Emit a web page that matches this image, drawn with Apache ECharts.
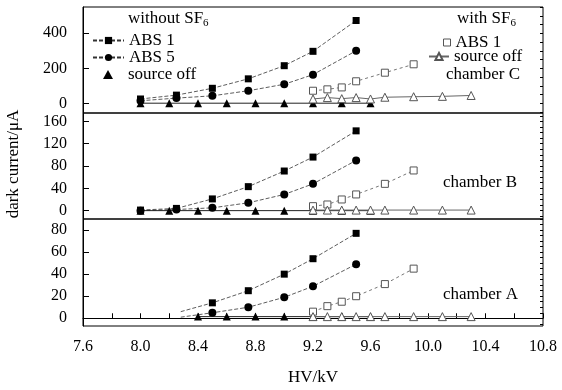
<!DOCTYPE html>
<html><head><meta charset="utf-8">
<script src="https://cdn.jsdelivr.net/npm/echarts@6/dist/echarts.min.js"></script>
<style>html,body{margin:0;padding:0;background:#fff}#c{width:562px;height:390px}</style>
</head><body><div id="c"></div>
<script>
// ---- data (HV in kV, dark current in uA) ----
const hvAbs   = [8.0, 8.25, 8.5, 8.75, 9.0, 9.2, 9.5];
const hvAbsA  = [8.28, 8.5, 8.75, 9.0, 9.2, 9.5];
const hvOff   = [8.0, 8.2, 8.4, 8.6, 8.8, 9.0, 9.2, 9.4, 9.6];
const hvOffA  = [8.4, 8.6, 8.8, 9.0, 9.2, 9.4, 9.6];
const hvSfAbs = [9.2, 9.3, 9.4, 9.5, 9.7, 9.9];
const hvSfOff = [9.2, 9.3, 9.4, 9.5, 9.6, 9.7, 9.9, 10.1, 10.3];

// chamber C
const cAbs1   = [25, 47, 86, 140, 215, 297, 473];
const cAbs5   = [15, 30, 43, 72, 109, 164, 300];
const cOff    = [1, 1, 1, 1, 1, 1, 1, 1, 1];
const cSfAbs1 = [72, 80, 91, 126, 175, 223];
const cSfOff  = [25, 33, 27, 33, 25, 35, 38, 40, 45];
// chamber B
const bAbs1   = [1, 4, 21, 43, 71, 96, 143];
const bAbs5   = [0, 2, 5, 14, 29, 48, 90];
const bOff    = [0, 0, 0, 0, 0, 0, 0, 0, 0];
const bSfAbs1 = [8, 11, 20, 29, 48, 72];
const bSfOff  = [1, 1, 1, 1, 1, 1, 1, 1, 1];
// chamber A
const aAbs1   = [6, 14, 25, 40, 54, 77];
const aAbs5   = [1, 5, 10, 19, 29, 49];
const aOff    = [1.5, 1.5, 1.5, 1.5, 1.5, 1.5, 1.5];
const aSfAbs1 = [6, 11, 15, 20, 31, 45];
const aSfOff  = [1.5, 1.5, 1.5, 1.5, 1.5, 1.5, 1.5, 1.5, 1.5];

// tick labels
const xTickLabels = [7.6, 8.0, 8.4, 8.8, 9.2, 9.6, 10.0, 10.4, 10.8];
const yLabelsC = [0, 200, 400];
const yLabelsB = [0, 40, 80, 120, 160];
const yLabelsA = [0, 20, 40, 60, 80];

// ---- build ----
const FONT = 'Liberation Serif';
function zip(xs, ys, noFirstMarker) {
  return xs.map((x, i) => (noFirstMarker && i === 0) ? {value: [x, ys[i]], symbol: 'none'} : [x, ys[i]]);
}
function steps(a, b, s) { const r = []; for (let v = a; v <= b + 1e-9; v += s) r.push(+v.toFixed(4)); return r; }

const ranges = [
  {min: -55, max: 550, labels: yLabelsC, minor: steps(-50, 550, 50)},
  {min: -15, max: 175, labels: yLabelsB, minor: steps(-10, 170, 10)},
  {min: -7,  max: 90,  labels: yLabelsA, minor: steps(-5, 90, 5)}
];

const grids = [
  {left: 83, right: 19, top: 7, height: 106},
  {left: 83, right: 19, top: 113, height: 106},
  {left: 83, right: 19, top: 219, height: 107}
].map(g => Object.assign(g, {show: true, borderColor: '#000', borderWidth: 1, backgroundColor: 'transparent'}));

const xAxes = [0, 1, 2].map(i => ({
  gridIndex: i, type: 'value', min: 7.6, max: 10.8, interval: 0.2,
  show: i === 2,
  axisLine: {show: true, lineStyle: {color: '#000', width: 1}},
  axisTick: {show: true, inside: true, length: 5, lineStyle: {color: '#000'}},
  axisLabel: {
    show: true, color: '#000', fontFamily: FONT, fontSize: 16, margin: 13,
    formatter: v => xTickLabels.some(t => Math.abs(t - v) < 1e-6) ? v.toFixed(1) : ''
  },
  splitLine: {show: false},
  name: i === 2 ? 'HV/kV' : '', nameLocation: 'middle', nameGap: 43,
  nameTextStyle: {color: '#000', fontFamily: FONT, fontSize: 17}
}));

const yAxes = [];
ranges.forEach((r, i) => {
  yAxes.push({
    gridIndex: i, type: 'value', min: r.min, max: r.max,
    axisLine: {show: true, lineStyle: {color: '#000'}},
    axisTick: {show: true, inside: true, length: 6, customValues: r.labels, lineStyle: {color: '#000'}},
    axisLabel: {customValues: r.labels, color: '#000', fontFamily: FONT, fontSize: 16, margin: 16},
    splitLine: {show: false}
  });
  yAxes.push({
    gridIndex: i, type: 'value', min: r.min, max: r.max,
    axisLine: {show: false},
    axisTick: {show: true, inside: true, length: 3, customValues: r.minor, lineStyle: {color: '#000'}},
    axisLabel: {show: false},
    splitLine: {show: false}
  });
});

const styles = {
  'ABS 1': {symbol: 'rect', symbolSize: 7, itemStyle: {color: '#000'}, lineStyle: {color: '#333', width: 0.8, type: [4, 2]}},
  'ABS 5': {symbol: 'circle', symbolSize: 8, itemStyle: {color: '#000'}, lineStyle: {color: '#333', width: 0.8, type: [4, 2]}},
  'source off': {symbol: 'triangle', symbolSize: 8, itemStyle: {color: '#000'}, lineStyle: {color: '#222', width: 1, type: 'solid'}},
  'SF6 ABS 1': {symbol: 'rect', symbolSize: 7, itemStyle: {color: '#fff', borderColor: '#555', borderWidth: 1}, lineStyle: {color: '#777', width: 1, type: [3, 3]}},
  'SF6 source off': {symbol: 'triangle', symbolSize: 8, itemStyle: {color: '#fff', borderColor: '#555', borderWidth: 1}, lineStyle: {color: '#666', width: 1, type: 'solid'}}
};

function mk(name, panel, data, z) {
  return Object.assign({
    type: 'line', name, xAxisIndex: panel, yAxisIndex: panel * 2, data,
    showAllSymbol: true, animation: false, z: z, clip: true
  }, JSON.parse(JSON.stringify(styles[name])));
}

const series = [
  mk('ABS 1', 0, zip(hvAbs, cAbs1), 2),
  mk('ABS 5', 0, zip(hvAbs, cAbs5), 2),
  mk('source off', 0, zip(hvOff, cOff), 2),
  mk('SF6 ABS 1', 0, zip(hvSfAbs, cSfAbs1), 3),
  mk('SF6 source off', 0, zip(hvSfOff, cSfOff), 3),
  mk('ABS 1', 1, zip(hvAbs, bAbs1), 2),
  mk('ABS 5', 1, zip(hvAbs, bAbs5), 2),
  mk('source off', 1, zip(hvOff, bOff), 2),
  mk('SF6 ABS 1', 1, zip(hvSfAbs, bSfAbs1), 3),
  mk('SF6 source off', 1, zip(hvSfOff, bSfOff), 3),
  mk('ABS 1', 2, zip(hvAbsA, aAbs1, true), 2),
  mk('ABS 5', 2, zip(hvAbsA, aAbs5, true), 2),
  mk('source off', 2, zip(hvOffA, aOff), 2),
  mk('SF6 ABS 1', 2, zip(hvSfAbs, aSfAbs1), 3),
  mk('SF6 source off', 2, zip(hvSfOff, aSfOff), 3)
];

const legTxt = {color: '#000', fontFamily: FONT, fontSize: 17, lineHeight: 16};
const subRich = {
  a: {fontFamily: FONT, fontSize: 17, lineHeight: 20, fill: '#000'},
  b: {fontFamily: FONT, fontSize: 11, lineHeight: 11, verticalAlign: 'bottom', fill: '#000'}
};

const option = {
  backgroundColor: '#fff',
  animation: false,
  grid: grids,
  xAxis: xAxes,
  yAxis: yAxes,
  series: series,
  legend: [
    {data: ['ABS 1', 'ABS 5'], orient: 'vertical', left: 92, top: 32,
     itemWidth: 31, itemHeight: 9, itemGap: 0, padding: 0, selectedMode: false, textStyle: legTxt},
    {data: [{name: 'source off', icon: 'triangle'}], left: 103, top: 66,
     itemWidth: 10, itemHeight: 9, padding: 0, selectedMode: false, itemGap: 0,
     textStyle: Object.assign({}, legTxt, {padding: [0, 0, 0, 10]})},
    {data: [{name: 'SF6 ABS 1', icon: 'rect', itemStyle: {color: '#fff', borderColor: '#555', borderWidth: 1}}],
     left: 443, top: 34, itemWidth: 7, itemHeight: 7, padding: 0, selectedMode: false, textStyle: legTxt,
     formatter: () => 'ABS 1'},
    {data: ['SF6 source off'], left: 428, top: 48, itemWidth: 20, itemHeight: 9, padding: 0, selectedMode: false,
     textStyle: legTxt, formatter: () => 'source off'}
  ],
  graphic: [
    {type: 'text', left: 128, top: 10, style: {text: '{a|without SF}{b|6}', rich: subRich}},
    {type: 'text', left: 457, top: 10, style: {text: '{a|with SF}{b|6}', rich: subRich}},
    {type: 'text', left: 446, top: 66, style: {text: 'chamber C', fill: '#000', font: '17px "Liberation Serif"'}},
    {type: 'text', left: 443, top: 174, style: {text: 'chamber B', fill: '#000', font: '17px "Liberation Serif"'}},
    {type: 'text', left: 443, top: 286, style: {text: 'chamber A', fill: '#000', font: '17px "Liberation Serif"'}},
    {type: 'text', x: 14, y: 164, rotation: Math.PI / 2,
     style: {text: 'dark current/μA', fill: '#000', font: '17px "Liberation Serif"', align: 'center', verticalAlign: 'middle'}}
  ]
};

const chart = echarts.init(document.getElementById('c'), null, {renderer: 'canvas'});
chart.setOption(option);
</script></body></html>
